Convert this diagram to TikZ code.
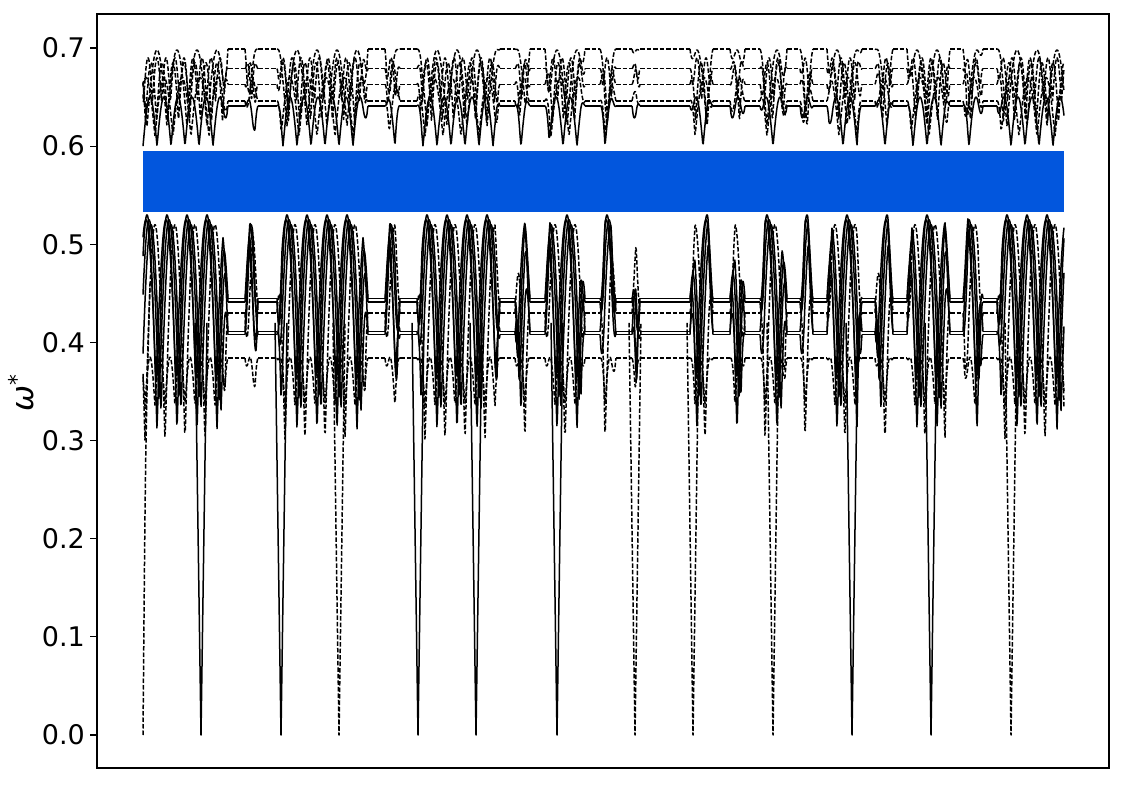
\documentclass[tikz,border=0pt]{standalone}
\usepackage{fontspec}
\setmainfont{DejaVu Sans}
\definecolor{bandblue}{RGB}{2,86,221}

\begin{document}
\begin{tikzpicture}[
  x=1pt, y=1pt,
  branch/.style={line width=1.5pt, black, line join=round},
  branchdash/.style={branch, dash pattern=on 4.5pt off 2pt},
  frame/.style={line width=1.2pt, black},
  ticklabel/.style={anchor=east, inner sep=0pt, font=\fontsize{27}{32}\selectfont},
  declare function={ramp(\xp,\lo,\hi)=min(1,(\xp-\lo)/5,(\hi-\xp)/5);}
]
\useasboundingbox (0,0) rectangle (1125,785);

\begin{scope}[shift={(0,50)}, y=981.4pt]
  % flat parts of the branches
  \foreach \a/\b in {228/245, 258/277, 368/385, 400/417, 500/515, 530/545,
      585/600, 616/632, 640/690, 713/730, 745/760, 787/800, 813/827,
      862/875, 893/907, 950/963, 983/997} {
    \foreach \lev/\sty in {0.445/branch, 0.441/branch, 0.430/branchdash,
        0.411/branch, 0.408/branch, 0.384/branchdash, 0.641/branch,
        0.646/branchdash, 0.663/branchdash, 0.679/branchdash, 0.699/branchdash}
      \draw[\sty] (\a,\lev) -- (\b,\lev);
  }
  % oscillating parts
  \foreach \lev/\sty/\c/\amp/\per/\ph in {
      0.445/branch/0.31/0.22/20/147, 0.441/branch/0.34/0.185/20/149,
      0.430/branchdash/0.30/0.22/20/155, 0.411/branch/0.36/0.165/20/146,
      0.408/branch/0.33/0.19/20/151, 0.384/branchdash/0.335/0.05/10/150,
      0.641/branch/0.60/0.05/14/150, 0.646/branchdash/0.61/0.06/18/146,
      0.663/branchdash/0.625/0.06/11/151, 0.679/branchdash/0.645/0.045/9/148,
      0.699/branchdash/0.62/0.078/20/157} {
    \foreach \a/\b/\la/\rb in {143/228/-999/228, 245/258/245/258,
        277/368/277/368, 385/400/385/400, 417/500/417/500, 515/530/515/530,
        545/585/545/585, 600/616/600/616, 632/640/632/640, 690/713/690/713,
        730/745/730/745, 760/787/760/787, 800/813/800/813, 827/862/827/862,
        875/893/875/893, 907/950/907/950, 963/983/963/983, 997/1064/997/9999} {
      \pgfmathtruncatemacro\ns{2*(\b-\a)+2}
      \draw[\sty] plot[domain=\a:\b, samples=\ns]
        (\x, {\lev + ramp(\x,\la,\rb)*(\c + \amp*abs(cos(180*mod(\x-\ph,\per)/\per)) - \lev)});
    }
  }
  % dips to zero
  \draw[branchdash] (143,0) .. controls (145.5,0.3) .. (150,0.46);
  \foreach \d/\sty in {201/branch, 281/branch, 339/branchdash, 418/branch,
      476/branch, 557/branch, 635/branchdash, 693/branchdash, 773/branchdash,
      852/branch, 931/branch, 1011/branchdash}
    \draw[\sty] (\d-6,0.42) -- (\d,0) -- (\d+6,0.42);

  \fill[bandblue] (143,0.533) rectangle (1064,0.595);

  % y axis
  \foreach \v [count=\i from 0] in {0.0,0.1,0.2,0.3,0.4,0.5,0.6,0.7} {
    \draw[frame] (90,\v) -- (97,\v);
    \node[ticklabel] (l\i) at (85,\v) {\v};
  }
\end{scope}

\draw[frame] (97,17) rectangle (1109,771);
\node[rotate=90, inner sep=0pt, font=\fontsize{31}{36}\selectfont] (ylab) at (21,392)
  {\itshape ω\textsuperscript{\upshape *}};
\end{tikzpicture}
\end{document}
